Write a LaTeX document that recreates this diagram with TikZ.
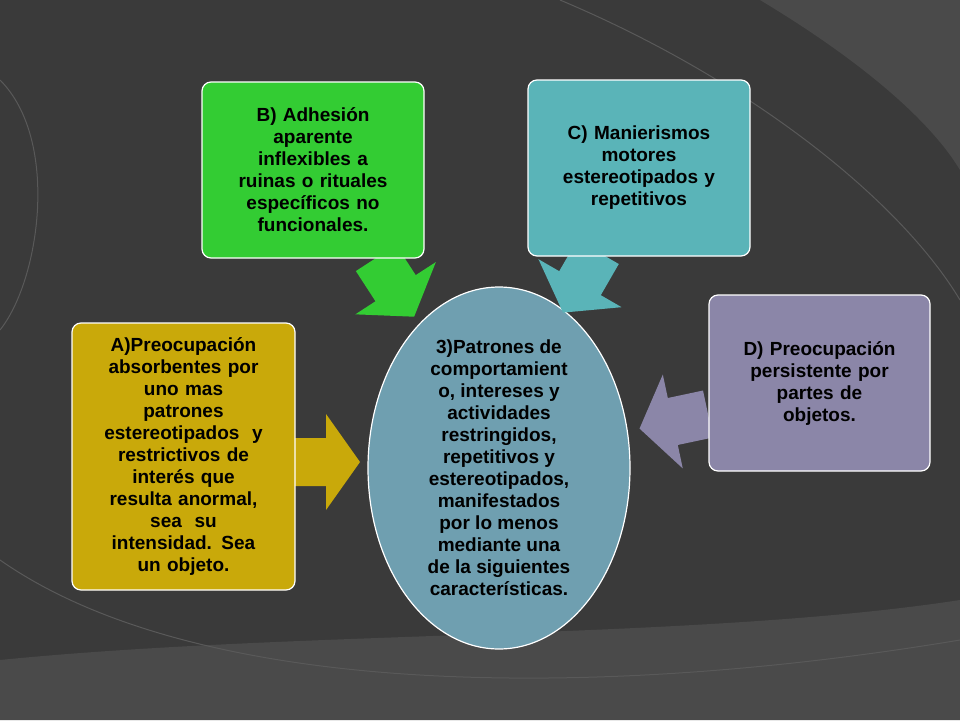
\documentclass[tikz,border=0pt]{standalone}
\usepackage{fontspec}
\setmainfont{Liberation Sans}
\usetikzlibrary{shapes.geometric}
\definecolor{bg}{HTML}{3A3A3A}
\definecolor{bgl}{HTML}{4A4A4A}
\definecolor{ca}{HTML}{C9A90A}
\definecolor{cb}{HTML}{33CC33}
\definecolor{cc}{HTML}{5AB4B8}
\definecolor{cd}{HTML}{8B86A8}
\definecolor{ce}{HTML}{6F9FB0}
\tikzset{
 box/.style={draw=white,line width=1.2pt,rounded corners=9pt,align=center,font=\bfseries\fontsize{19}{22}\selectfont,text=black,inner sep=4pt}
}
\newcommand{\blockarrow}[4]{% color, x, y, angle
 \fill[#1,shift={(#2,#3)},rotate=#4] (0,-24)--(36,-24)--(36,-48)--(70,0)--(36,48)--(36,24)--(0,24)--cycle;}
\begin{document}
\begin{tikzpicture}[x=1pt,y=-1pt]
\useasboundingbox (0,0) rectangle (960,720);
\fill[bg] (0,0) rectangle (960,720);
\fill[bgl] (0,660) .. controls (300,630) and (700,640) .. (960,600) -- (960,720) -- (0,720) -- cycle;
\fill[bgl] (760,0) .. controls (860,60) and (930,120) .. (960,170) -- (960,0) -- cycle;
\draw[gray!70!black,line width=1pt] (560,0) .. controls (750,80) and (900,200) .. (960,300);
\draw[gray!70!black,line width=1pt] (0,560) .. controls (200,700) and (600,700) .. (960,640);
\draw[gray!70!black,line width=1pt] (0,80) .. controls (60,140) and (40,280) .. (0,330);
\node[ellipse,draw=white,line width=1.2pt,fill=ce,minimum width=262pt,minimum height=344pt,align=center,font=\bfseries\fontsize{19}{22}\selectfont,inner sep=0pt] (e) at (499,468) {3)Patrones de\\comportamient\\o, intereses y\\actividades\\restringidos,\\repetitivos y\\estereotipados,\\manifestados\\por lo menos\\mediante una\\de la siguientes\\características.};
\blockarrow{ca}{290}{462}{0}
\blockarrow{cb}{376}{258}{-57}
\blockarrow{cc}{598}{252}{-120}
\blockarrow{cd}{708}{414}{-168}
\node[box,fill=ca,minimum width=223pt,minimum height=267pt,text width=210pt] (a) at (183.5,456.5) {A)Preocupación\\absorbentes por\\uno mas\\patrones\\estereotipados~ y\\restrictivos de\\interés que\\resulta anormal,\\sea~ su\\intensidad. Sea\\un objeto.};
\node[box,fill=cb,minimum width=222pt,minimum height=176pt,text width=200pt] (b) at (313,170) {B) Adhesión\\aparente\\inflexibles a\\ruinas o rituales\\específicos no\\funcionales.};
\node[box,fill=cc,minimum width=222pt,minimum height=176pt,text width=200pt] (c) at (639,168) {C) Manierismos\\motores\\estereotipados y\\repetitivos};
\node[box,fill=cd,minimum width=221pt,minimum height=176pt,text width=205pt] (d) at (819.5,383) {D) Preocupación\\persistente por\\partes de\\objetos.};
\end{tikzpicture}
\end{document}
